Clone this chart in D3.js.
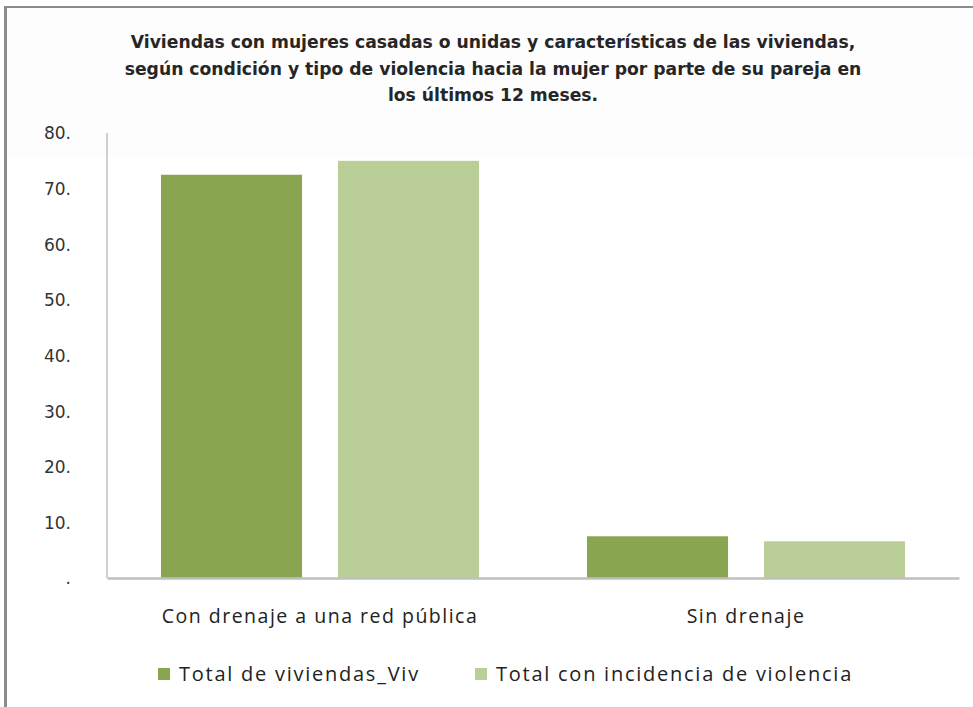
<!DOCTYPE html>
<html><head><meta charset="utf-8">
<script src="https://cdn.jsdelivr.net/npm/d3@7/dist/d3.min.js"></script>
<style>body{margin:0;background:#fff}svg{display:block}</style>
</head><body>
<svg id="chart" width="973" height="707"></svg>
<script>
const titleLines = [
  "Viviendas con mujeres casadas o unidas y características de las viviendas,",
  "según condición y tipo de violencia hacia la mujer por parte de su pareja en",
  "los últimos 12 meses."
];
const categories = ["Con drenaje a una red pública", "Sin drenaje"];
const seriesNames = ["Total de viviendas_Viv", "Total con incidencia de violencia"];
const totalViviendas = [72.5, 7.5];
const totalViolencia = [75.0, 6.6];
const tickValues = [0, 10, 20, 30, 40, 50, 60, 70, 80];
const tickLabels = [".", "10.", "20.", "30.", "40.", "50.", "60.", "70.", "80."];
const colors = ["#8AA54F", "#BACF98"];

const svg = d3.select("#chart");
const W = 973, H = 707;

// faint top band & frame
svg.append("rect").attr("x",6).attr("y",7).attr("width",W-6).attr("height",150).attr("fill","#fdfdfd");
svg.append("line").attr("x1",5).attr("x2",W).attr("y1",7).attr("y2",7).attr("stroke","#8c8c8c").attr("stroke-width",2);
svg.append("line").attr("x1",5.5).attr("x2",5.5).attr("y1",6).attr("y2",H).attr("stroke","#8c8c8c").attr("stroke-width",3);

// title
const title = svg.append("text").attr("text-anchor","middle")
  .attr("font-family","'DejaVu Sans', sans-serif").attr("font-weight","bold")
  .attr("font-size",17.2).attr("fill","#262626");
titleLines.forEach((t,i)=>{
  title.append("tspan").attr("x",493).attr("y",48+i*26.5).text(t);
});

const m = {left:107, right:959, top:133, bottom:578};
const x0 = d3.scaleBand().domain(categories).range([m.left, m.right]).paddingInner(0).paddingOuter(0);
const x1 = d3.scaleBand().domain(seriesNames).range([0, x0.bandwidth()]).paddingInner(0.203).paddingOuter(0.305);
const y = d3.scaleLinear().domain([0,80]).range([m.bottom, m.top]);

// y axis
const yAxis = d3.axisLeft(y).tickValues(tickValues).tickSize(0).tickPadding(0)
  .tickFormat((d,i)=>tickLabels[i]);
const gy = svg.append("g").attr("transform",`translate(71,0)`).call(yAxis);
gy.select(".domain").remove();
gy.selectAll("text").attr("font-family","'DejaVu Sans', sans-serif").attr("font-size",17).attr("fill","#333")
  .attr("dy","0.35em");
svg.append("line").attr("x1",m.left).attr("x2",m.left).attr("y1",m.top).attr("y2",m.bottom)
  .attr("stroke","#bfbfbf").attr("stroke-width",1.5);

// bars
const data = categories.map((c,i)=>({cat:c, vals:[totalViviendas[i], totalViolencia[i]]}));
const groups = svg.append("g").selectAll("g").data(data).join("g")
  .attr("transform",d=>`translate(${x0(d.cat)},0)`);
groups.selectAll("rect").data(d=>d.vals.map((v,j)=>({s:seriesNames[j], v, j}))).join("rect")
  .attr("x",d=>x1(d.s)).attr("width",x1.bandwidth())
  .attr("y",d=>y(d.v)).attr("height",d=>y(0)-y(d.v))
  .attr("fill",d=>colors[d.j]);

// x axis
const xAxis = d3.axisBottom(x0).tickSize(0).tickPadding(0);
const gx = svg.append("g").attr("transform",`translate(0,${m.bottom})`).call(xAxis);
gx.select(".domain").attr("stroke","#bfbfbf").attr("stroke-width",2.5);
gx.selectAll("text").attr("font-family","'Open Sans', sans-serif").attr("font-size",19.5)
  .attr("letter-spacing","1.5px")
  .attr("fill","#222").attr("dy","0").attr("y",45);

// legend
const legX = [158, 475];
const leg = svg.append("g").selectAll("g").data(seriesNames).join("g")
  .attr("transform",(d,i)=>`translate(${legX[i]},668)`);
leg.append("rect").attr("width",12).attr("height",12).attr("fill",(d,i)=>colors[i]);
leg.append("text").attr("x",21).attr("y",13).attr("font-family","'Open Sans', sans-serif")
  .attr("font-size",20).attr("letter-spacing","1.75px").attr("fill","#222").text(d=>d);
</script>
</body></html>
